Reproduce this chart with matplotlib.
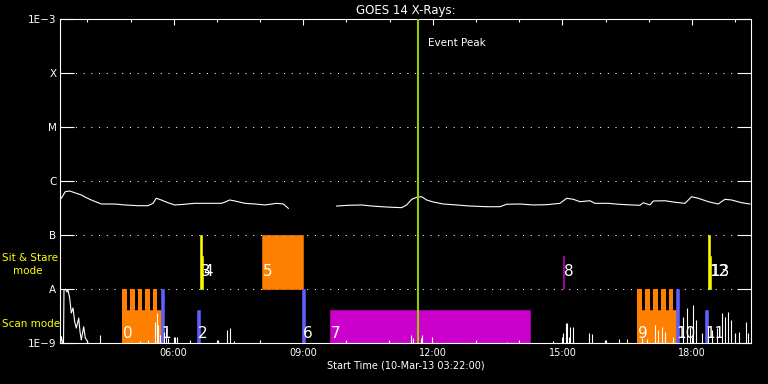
import numpy as np
import matplotlib
matplotlib.use('Agg')
import matplotlib.pyplot as plt
from matplotlib.ticker import FixedLocator, NullLocator, FuncFormatter

# ---------------- data (time in hours of 10-Mar-13)
t_start = 3 + 22 / 60.0
peak_t = 11.65

# GOES 14 1-8 A flux, NaN marks the data gap
goes_t = [3.397, 3.489, 3.591, 3.707, 3.860, 3.976, 4.091, 4.207, 4.323, 4.633,
          4.865, 5.173, 5.404, 5.520, 5.596, 5.712, 5.867, 6.022, 6.254, 6.485,
          6.793, 7.101, 7.180, 7.296, 7.419, 7.650, 7.882, 8.113, 8.384, 8.537,
          8.653, 9.2,
          9.773, 10.042, 10.352, 10.584, 10.818, 11.047, 11.278, 11.394, 11.510, 11.626,
          11.741, 11.857, 12.010, 12.241, 12.551, 12.859, 13.246, 13.554, 13.709, 14.017,
          14.325, 14.635, 14.944, 15.099, 15.251, 15.407, 15.638, 15.754, 16.062, 16.293,
          16.603, 16.796, 16.873, 17.027, 17.104, 17.375, 17.606, 17.838, 17.992, 18.145,
          18.377, 18.608, 18.763, 18.918, 19.149, 19.342]
goes_f = [4.79e-7, 6.34e-7, 6.53e-7, 6.07e-7, 5.51e-7, 4.91e-7, 4.45e-7, 4.08e-7, 3.75e-7, 3.75e-7,
          3.60e-7, 3.49e-7, 3.49e-7, 3.86e-7, 4.79e-7, 4.45e-7, 3.96e-7, 3.60e-7, 3.71e-7, 3.86e-7,
          3.86e-7, 3.86e-7, 4.04e-7, 4.45e-7, 4.26e-7, 3.86e-7, 3.75e-7, 3.60e-7, 3.86e-7, 3.75e-7,
          3.12e-7, np.nan,
          3.44e-7, 3.55e-7, 3.60e-7, 3.44e-7, 3.34e-7, 3.26e-7, 3.21e-7, 3.60e-7, 4.58e-7, 4.99e-7,
          5.12e-7, 4.45e-7, 4.08e-7, 3.75e-7, 3.60e-7, 3.44e-7, 3.34e-7, 3.34e-7, 3.71e-7, 3.75e-7,
          3.60e-7, 3.64e-7, 3.86e-7, 4.79e-7, 4.58e-7, 4.14e-7, 4.31e-7, 3.86e-7, 3.86e-7, 3.71e-7,
          3.60e-7, 3.55e-7, 3.96e-7, 3.60e-7, 4.26e-7, 4.31e-7, 4.04e-7, 3.86e-7, 5.12e-7, 4.79e-7,
          4.14e-7, 3.75e-7, 4.58e-7, 4.45e-7, 3.96e-7, 3.75e-7]

# trace in the scan-mode band: start of the day as a curve, then single spikes
trace_t = [3.378, 3.401, 3.425, 3.448, 3.459, 3.494, 3.529, 3.552, 3.591, 3.628,
           3.668, 3.707, 3.744, 3.800, 3.830, 3.860, 3.915, 3.952, 3.999, 4.015]
trace_f = [1e-9, 1.31e-9, 1e-9, 1e-9, 9.6e-9, 9.9e-9, 8.8e-9, 9.6e-9, 6.8e-9, 3.59e-9,
           4.45e-9, 2.48e-9, 1.89e-9, 2.90e-9, 1.62e-9, 1.14e-9, 2.0e-9, 1.24e-9, 1.09e-9, 1e-9]
spike_t = [4.286, 5.212, 5.404, 5.559, 5.606, 5.636, 5.675, 5.775, 5.828, 5.867,
           6.022, 6.068, 6.370, 7.025, 7.240, 7.296, 7.396, 7.998, 9.988, 10.984,
           11.493, 11.540, 11.725, 11.748, 11.980, 12.999, 13.716, 13.994, 14.781, 15.020,
           15.082, 15.113, 15.152, 15.175, 15.238, 15.622, 15.678, 15.985, 16.317, 16.488,
           16.835, 16.951, 17.143, 17.219, 17.298, 17.374, 17.566, 17.798, 17.877, 17.953,
           18.030, 18.092, 18.224, 18.377, 18.455, 18.571, 18.687, 18.763, 18.840, 18.895,
           18.995, 19.095, 19.250, 19.303]
spike_f = [1.41e-9, 1.09e-9, 1.14e-9, 2.48e-9, 3.55e-9, 2.15e-9, 1.41e-9, 1.62e-9, 1.92e-9, 1.22e-9,
           1.31e-9, 1.31e-9, 1.14e-9, 1.14e-9, 1.74e-9, 1.87e-9, 1.09e-9, 1.14e-9, 1.14e-9, 1.14e-9,
           1.41e-9, 1.24e-9, 1.24e-9, 1.41e-9, 1.31e-9, 1.14e-9, 1.04e-9, 1.14e-9, 1.09e-9, 1.53e-9,
           2.35e-9, 2.32e-9, 1.29e-9, 2.0e-9, 2.0e-9, 1.51e-9, 1.47e-9, 1.14e-9, 1.17e-9, 1.17e-9,
           1.22e-9, 1.17e-9, 2.15e-9, 1.74e-9, 2.0e-9, 1.62e-9, 1.31e-9, 3.07e-9, 4.39e-9, 2.0e-9,
           5.05e-9, 2.67e-9, 1.51e-9, 2.0e-9, 1.74e-9, 1.87e-9, 3.55e-9, 3.07e-9, 3.80e-9, 2.67e-9,
           1.51e-9, 1.62e-9, 2.48e-9, 1.51e-9]

# IRIS observations: label, start, end, mode, colour, fraction of the band
obs_label = ['0', '1', '2', '3', '4', '5', '6', '7', '8', '9', '10', '11', '12', '13']
obs_start = [4.802, 5.698, 6.539, 6.608, 6.661, 8.044, 8.963, 9.618, 15.013, 16.733, 17.622, 18.300, 18.370, 18.416]
obs_end = [5.698, 5.775, 6.608, 6.661, 6.689, 8.986, 9.032, 14.249, 15.043, 17.622, 17.699, 18.362, 18.416, 18.446]
obs_mode = ['scan', 'scan', 'scan', 'sit', 'sit', 'sit', 'scan', 'scan', 'sit', 'scan', 'scan', 'scan', 'sit', 'sit']
obs_color = ['#ff8000', '#6060ff', '#6060ff', '#ffff00', '#ffff00', '#ff8000', '#6060ff',
             '#cc00cc', '#cc00cc', '#ff8000', '#6060ff', '#6060ff', '#ffff00', '#ffff00']
obs_frac = [0.61, 1.0, 0.61, 1.0, 0.61, 1.0, 1.0, 0.61, 0.61, 0.61, 1.0, 0.61, 1.0, 0.61]

# raster steps of the two orange scans (full height teeth)
teeth_start = [4.802, 4.987, 5.172, 5.346, 5.527, 16.733, 16.918, 17.103, 17.288, 17.474]
teeth_end = [4.911, 5.096, 5.265, 5.450, 5.619, 16.842, 17.027, 17.212, 17.397, 17.566]

levels = [1e-9, 1e-8, 1e-7, 1e-6, 1e-5, 1e-4, 1e-3]
level_names = ['1E\u22129', 'A', 'B', 'C', 'M', 'X', '1E\u22123']
major_hours = [6, 9, 12, 15, 18]

# ---------------- figure
fig = plt.figure(figsize=(7.68, 3.84), dpi=100, facecolor='black')
ax = fig.add_axes([60 / 768, 41 / 384, 691 / 768, 324 / 384], facecolor='black')
ax.set_yscale('log')
ax.set_ylim(1e-9, 1e-3)
ax.set_xlim(t_start, t_start + 16)

for lev in levels[1:-1]:
    ax.axhline(lev, color='white', lw=0.75, dashes=(1, 6.4), zorder=1)

base = {'scan': 1e-9, 'sit': 1e-8}
for lab, s, e, m, c, fr in zip(obs_label, obs_start, obs_end, obs_mode, obs_color, obs_frac):
    b = base[m]
    ax.bar(s, b * 10 ** fr - b, bottom=b, width=e - s, align='edge', color=c,
           edgecolor=c, lw=0.4, zorder=2)
for s, e in zip(teeth_start, teeth_end):
    ax.bar(s, 9e-9, bottom=1e-9, width=e - s, align='edge', color='#ff8000', lw=0, zorder=2)

ax.plot(trace_t, trace_f, color='white', lw=0.8, zorder=3)
ax.vlines(spike_t, 1e-9, spike_f, color='white', lw=0.8, zorder=3)
ax.plot(goes_t, goes_f, color='white', lw=0.8, zorder=3)

ax.axvline(peak_t, color='#99cc00', lw=1.5, zorder=4)
ax.text(peak_t + 0.24, 3.6e-4, 'Event Peak', color='white', fontsize=7.5, va='center', ha='left')

lab_y = {'scan': 1.53e-9, 'sit': 2.07e-8}
for lab, s, m in zip(obs_label, obs_start, obs_mode):
    ax.text(s + 0.02, lab_y[m], lab, color='white', fontsize=11, va='center', ha='left', zorder=5)

# ---------------- axes styling
for sp in ax.spines.values():
    sp.set_color('white')
    sp.set_linewidth(0.8)
ax.yaxis.set_major_locator(FixedLocator(levels))
ax.yaxis.set_minor_locator(NullLocator())
ax.set_yticklabels(level_names)
ax.xaxis.set_major_locator(FixedLocator(major_hours))
ax.xaxis.set_minor_locator(FixedLocator(range(4, 20)))
ax.xaxis.set_major_formatter(FuncFormatter(lambda v, p: '%02d:00' % int(round(v))))
ax.tick_params(axis='x', which='major', direction='in', length=4.3, width=0.8, top=True,
               bottom=True, color='white', labelcolor='white', labelsize=7, pad=3.5)
ax.tick_params(axis='x', which='minor', direction='in', length=2.4, width=0.8, top=True,
               bottom=True, color='white')
ax.tick_params(axis='y', which='major', direction='in', length=10, width=0.8, left=True,
               right=True, color='white', labelcolor='white', labelsize=7.5, pad=2.5)

ax.set_title('GOES 14 X-Rays:', color='white', fontsize=8.5, pad=3.5)
ax.set_xlabel('Start Time (10-Mar-13 03:22:00)', color='white', fontsize=7, labelpad=2)

fig.text(2 / 768, 1 - 258 / 384, 'Sit & Stare', color='yellow', fontsize=7.5, va='center', ha='left')
fig.text(13 / 768, 1 - 271 / 384, 'mode', color='yellow', fontsize=7.5, va='center', ha='left')
fig.text(2 / 768, 1 - 324 / 384, 'Scan mode', color='yellow', fontsize=7.5, va='center', ha='left')

fig.savefig('out.png', dpi=100, facecolor='black')
